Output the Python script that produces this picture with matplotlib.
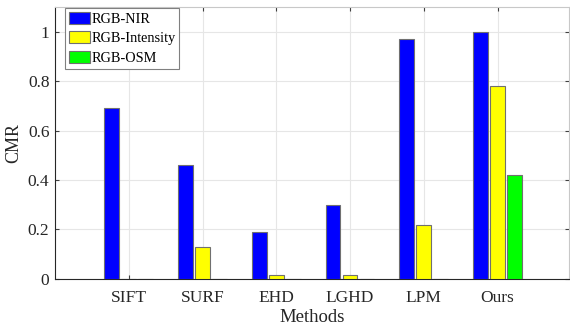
import numpy as np
import matplotlib
matplotlib.use('Agg')
import matplotlib.pyplot as plt

methods = ['SIFT', 'SURF', 'EHD', 'LGHD', 'LPM', 'Ours']
rgb_nir = [0.69, 0.46, 0.19, 0.30, 0.97, 1.00]
rgb_intensity = [0.0, 0.13, 0.015, 0.015, 0.22, 0.78]
rgb_osm = [0.0, 0.0, 0.0, 0.0, 0.0, 0.42]

plt.rcParams['font.family'] = ['Liberation Serif', 'DejaVu Serif']

fig = plt.figure(figsize=(5.7, 3.27), dpi=100)
ax = fig.add_axes([0.0965, 0.147, 0.902, 0.832])

x = np.arange(1, len(methods) + 1)
w = 0.2
off = 0.23
ax.bar(x - off, rgb_nir, w, color='#0000ff', edgecolor='#707070', linewidth=0.8, label='RGB-NIR', zorder=3)
ax.bar(x, rgb_intensity, w, color='#ffff00', edgecolor='#707070', linewidth=0.8, label='RGB-Intensity', zorder=3)
ax.bar(x + off, rgb_osm, w, color='#00ff00', edgecolor='#707070', linewidth=0.8, label='RGB-OSM', zorder=3)

ax.set_xlim(0, 6.97)
ax.set_ylim(0, 1.1)
ax.set_xticks(x)
ax.set_xticklabels(methods)
ax.set_yticks([0, 0.2, 0.4, 0.6, 0.8, 1.0])
ax.set_yticklabels(['0', '0.2', '0.4', '0.6', '0.8', '1'])
ax.tick_params(labelsize=12.5, length=3, direction='in', color='#404040', colors='#262626',
               top=True, right=True)
ax.tick_params(axis='x', pad=8)
ax.tick_params(axis='y', pad=4)
ax.grid(True, color='#e6e6e6', linewidth=0.8, zorder=0)
for s in ax.spines.values():
    s.set_color('#c8c8c8')
ax.spines['left'].set_color('#262626')
ax.spines['bottom'].set_color('#262626')

ax.set_xlabel('Methods', fontsize=13.5, color='#262626', labelpad=2)
ax.set_ylabel('CMR', fontsize=13, color='#262626', labelpad=4)

leg = ax.legend(loc='upper left', bbox_to_anchor=(0.017, 1.0), fontsize=10.3, fancybox=False, framealpha=1,
                edgecolor='#808080', borderpad=0.25, handlelength=1.5, handleheight=0.9,
                handletextpad=0.1, labelspacing=0.4, borderaxespad=0.1)
leg.get_frame().set_linewidth(0.8)

fig.savefig('out.png', dpi=100)
